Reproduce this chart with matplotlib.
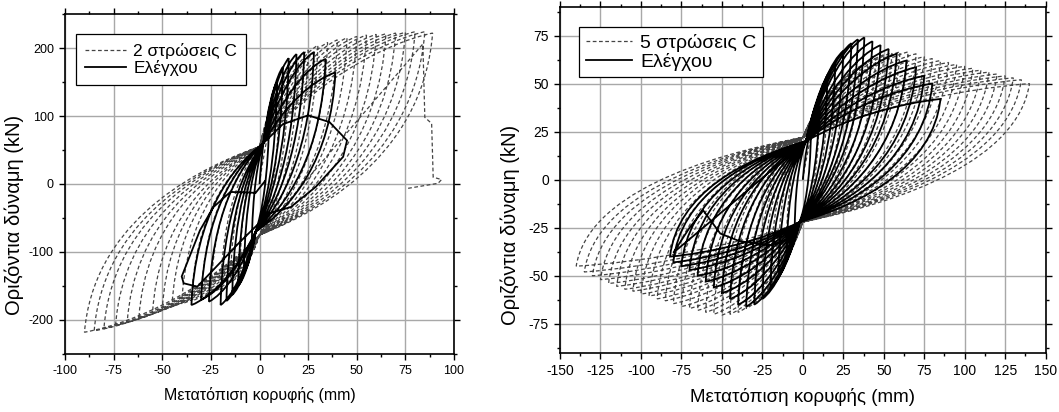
import matplotlib
matplotlib.use("Agg")
import matplotlib.pyplot as plt
from matplotlib.path import Path
from matplotlib.patches import PathPatch
from matplotlib.lines import Line2D
from matplotlib.ticker import MultipleLocator

plt.rcParams['font.family'] = ['Liberation Sans', 'DejaVu Sans']
plt.rcParams['axes.unicode_minus'] = False

# ---------------- left panel : 2 layers C (dashed) ----------------
c2_pos_x = [10, 15, 20, 25, 30, 35, 40, 45, 50, 55, 60, 65, 70, 75, 80, 85, 89]
c2_pos_f = [120, 160, 185, 197, 204, 208, 212, 215, 217, 219, 220, 221, 222, 223, 224, 224, 222]
c2_neg_x = [-10, -15, -20, -25, -30, -35, -40, -45, -50, -55, -62, -68, -74, -80, -85, -90]
c2_neg_f = [-125, -145, -155, -161, -167, -172, -176, -180, -185, -190, -197, -203, -208, -213, -216, -218]
c2_pinch_x = [0, 0]
c2_pinch_f = [55, -75]
c2_tail_x = [84, 85, 88.5, 89.3, 93.6, 91.8, 75.7]
c2_tail_f = [206, 98, 89, 10, 6.5, 1, -6.7]

# ---------------- left panel : control (solid) ----------------
r2_pos_x = [5, 9, 12, 15, 19, 23, 28, 34, 39]
r2_pos_f = [105, 150, 172, 185, 191, 194, 194, 184, 164]
r2_neg_x = [-4, -8, -11, -14, -17, -20, -26, -30, -35]
r2_neg_f = [-95, -130, -150, -163, -172, -178, -173, -170, -178]
r2_pinch_x = [2, -2]
r2_pinch_f = [60, -70]
r2_tail_x = [12, 25, 36, 45, 43, 29, 16, 5, -10, -32, -39, -40, -30.6, -23.7, -15, -2, 3]
r2_tail_f = [88, 101, 91, 64, 40, -4, -34, -43, -85, -151, -146, -136, -68, -34, -11.7, -13, 5]

# ---------------- right panel : 5 layers C (dashed) ----------------
c5_pos_x = [10, 15, 20, 25, 30, 35, 40, 45, 50, 55, 60, 65, 70, 75, 80, 85, 90, 95,
            100, 105, 110, 115, 120, 125, 130, 135, 140]
c5_pos_f = [32, 40, 46, 51, 55, 58, 61, 63, 65, 66, 66.5, 66.5, 65.5, 64, 63, 62, 61, 60,
            59, 58, 57, 56, 55, 54, 53, 52, 50]
c5_neg_x = [-10, -15, -20, -25, -30, -35, -40, -45, -50, -55, -60, -65, -70, -75, -80, -85,
            -90, -95, -100, -105, -110, -115, -120, -125, -130, -135, -140]
c5_neg_f = [-30, -38, -47, -55, -62, -67, -69, -70, -70.5, -70, -69, -68, -67, -66, -64.5, -63,
            -62, -60.5, -59.5, -58, -57, -55.5, -54, -52, -50, -48, -45]
c5_pinch_x = [0, 0]
c5_pinch_f = [22, -22]

# ---------------- right panel : control (solid) ----------------
r5_pos_x = [5, 10, 15, 20, 25, 30, 34, 38, 43, 48, 53, 58, 64, 70, 75, 80, 85]
r5_pos_f = [25, 38, 50, 60, 67, 71, 73, 74, 72, 70, 68, 65.5, 62, 58.5, 54, 50, 42]
r5_neg_x = [-5, -10, -15, -20, -25, -30, -35, -40, -45, -50, -55, -60, -65, -70, -75, -80, -82]
r5_neg_f = [-25, -38, -48, -56, -62, -65, -66, -65, -62, -59, -56, -53, -50, -47, -45, -43, -40]
r5_pinch_x = [2, -2]
r5_pinch_f = [20, -22]
r5_tail_x = [-80, -70, -61.5, -51, -39, -20, -5]
r5_tail_f = [-38, -25, -16, -28, -32, -34, -30]


def loop_path(px, pf, nx, nf, qx, qf, tx=(), tf=()):
    verts = [(0.0, 0.0)]
    codes = [Path.MOVETO]

    def load(p, q):
        # reloading: leaves the pinch point steeply, flattens near the peak
        dx, dy = q[0] - p[0], q[1] - p[1]
        verts.extend([(p[0] + 0.3 * dx, p[1] + 0.55 * dy),
                      (q[0] - 0.3 * dx, q[1] - 0.1 * dy), q])
        codes.extend([Path.CURVE4] * 3)

    def unload(p, q):
        # unloading: steep drop from the peak, then towards the pinch
        dx, dy = p[0] - q[0], p[1] - q[1]
        verts.extend([(p[0] - 0.05 * dx, p[1] - 0.55 * dy),
                      (q[0] + 0.45 * dx, q[1] + 0.15 * dy), q])
        codes.extend([Path.CURVE4] * 3)

    top = (qx[0], qf[0])
    bot = (qx[1], qf[1])
    cur = (0.0, 0.0)
    for i in range(max(len(px), len(nx))):
        if i < len(px):
            load(cur, (px[i], pf[i]))
            unload((px[i], pf[i]), bot)
            cur = bot
        if i < len(nx):
            load(cur, (nx[i], nf[i]))
            unload((nx[i], nf[i]), top)
            cur = top
    for x, f in zip(tx, tf):
        verts.append((x, f))
        codes.append(Path.LINETO)
    return Path(verts, codes)


dash_style = dict(color='#444444', lw=0.9, ls=(0, (3, 2)))
solid_style = dict(color='black', lw=1.3, ls='-')

fig = plt.figure(figsize=(10.59, 4.12), dpi=100)
ax1 = fig.add_axes([0.0614, 0.1408, 0.3673, 0.8252])
ax2 = fig.add_axes([0.5288, 0.1439, 0.4586, 0.8398])


def style_axes(ax, xlim, ylim, xmaj, ymaj, tick_fs, lab_fs_x, lab_fs_y, ylab_pos):
    ax.set_xlim(*xlim)
    ax.set_ylim(*ylim)
    ax.xaxis.set_major_locator(MultipleLocator(xmaj))
    ax.xaxis.set_minor_locator(MultipleLocator(xmaj / 2))
    ax.yaxis.set_major_locator(MultipleLocator(ymaj))
    ax.yaxis.set_minor_locator(MultipleLocator(ymaj / 2))
    ax.grid(True, which='major', color='#a8a8a8', lw=1.0)
    ax.set_axisbelow(True)
    ax.tick_params(which='both', direction='out', top=True, right=True,
                   labelsize=tick_fs, width=1.0, color='black')
    ax.tick_params(which='major', length=4.5)
    ax.tick_params(which='minor', length=2.5)
    for s in ax.spines.values():
        s.set_linewidth(1.2)
    ax.set_xlabel('Μετατόπιση κορυφής (mm)', fontsize=lab_fs_x, labelpad=7)
    ax.set_ylabel('Οριζόντια δύναμη (kN)', fontsize=lab_fs_y)
    ax.yaxis.set_label_coords(*ylab_pos)


style_axes(ax1, (-100, 100), (-250, 250), 25, 100, 9, 11.5, 14.5, (-0.105, 0.41))
style_axes(ax2, (-150, 150), (-90, 90), 25, 25, 10, 13.5, 14.5, (-0.082, 0.37))

ax1.add_patch(PathPatch(loop_path(c2_pos_x, c2_pos_f, c2_neg_x, c2_neg_f,
                                  c2_pinch_x, c2_pinch_f, c2_tail_x, c2_tail_f),
                        fill=False, **dash_style))
ax1.add_patch(PathPatch(loop_path(r2_pos_x, r2_pos_f, r2_neg_x, r2_neg_f,
                                  r2_pinch_x, r2_pinch_f, r2_tail_x, r2_tail_f),
                        fill=False, **solid_style))
ax2.add_patch(PathPatch(loop_path(c5_pos_x, c5_pos_f, c5_neg_x, c5_neg_f,
                                  c5_pinch_x, c5_pinch_f),
                        fill=False, **dash_style))
ax2.add_patch(PathPatch(loop_path(r5_pos_x, r5_pos_f, r5_neg_x, r5_neg_f,
                                  r5_pinch_x, r5_pinch_f, r5_tail_x, r5_tail_f),
                        fill=False, **solid_style))

for ax, lab, fs, anchor, bp, sp in [(ax1, '2 στρώσεις C', 12.5, (0.028, 0.941), 0.5, 0.1),
                                    (ax2, '5 στρώσεις C', 14, (0.0385, 0.942), 0.35, 0.05)]:
    handles = [Line2D([], [], **dash_style), Line2D([], [], **solid_style)]
    leg = ax.legend(handles, [lab, 'Ελέγχου'], loc='upper left', bbox_to_anchor=anchor,
                    borderaxespad=0, fancybox=False, edgecolor='black', framealpha=1,
                    fontsize=fs, handlelength=2.4, handletextpad=0.4,
                    labelspacing=sp, borderpad=bp)
    leg.get_frame().set_linewidth(0.9)

fig.savefig('out.png', dpi=100)
